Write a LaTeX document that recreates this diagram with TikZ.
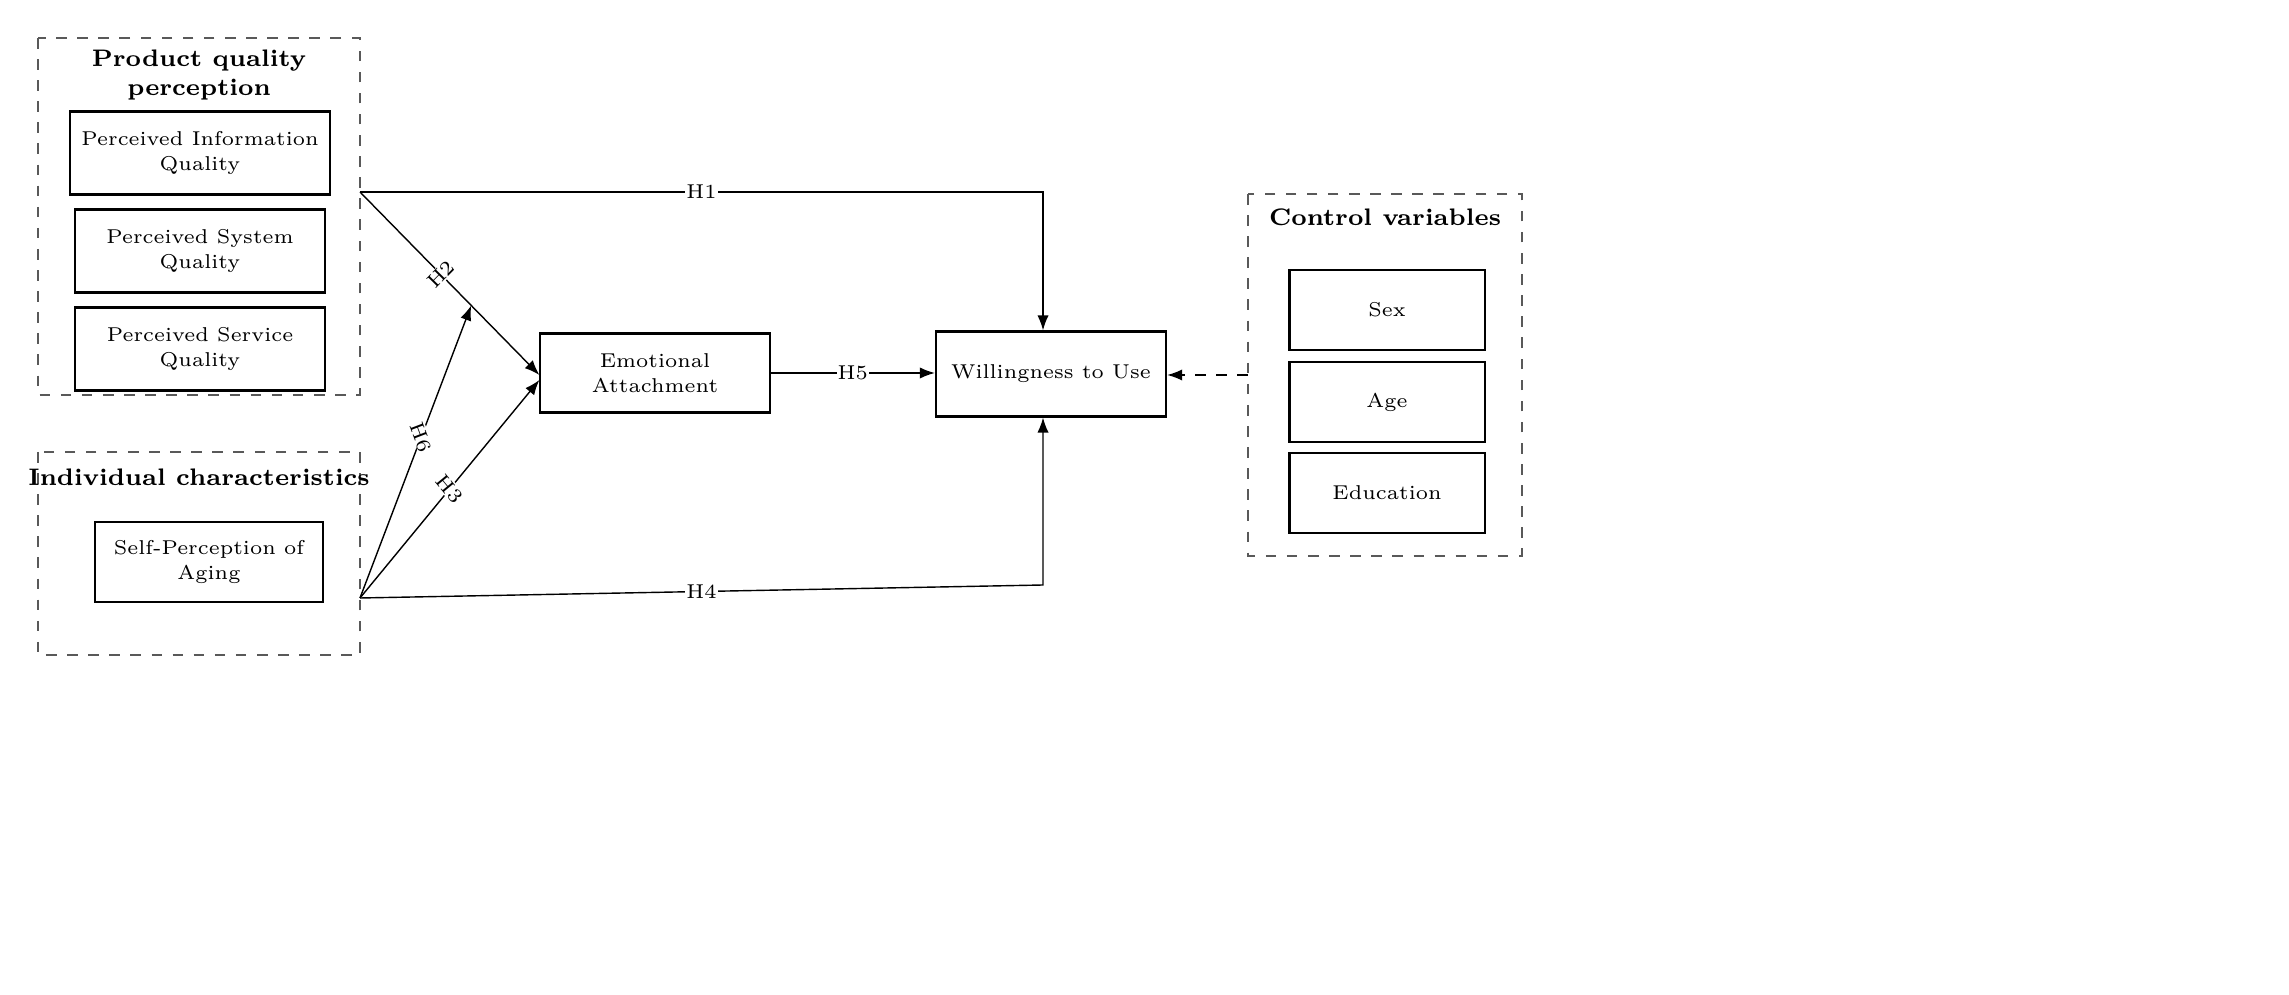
\documentclass[tikz,border=0pt]{standalone}
\usepackage{tikz}
\usetikzlibrary{positioning,arrows.meta,calc}
\tikzset{
  box/.style={draw,semithick,minimum width=2.3cm,minimum height=0.8cm,align=center,font=\fontsize{5.7}{7.2}\selectfont},
  group/.style={draw,semithick,dashed,gray!70!black},
  title/.style={font=\bfseries\fontsize{6.8}{8.2}\selectfont,align=center},
  hyp/.style={fill=white,inner sep=0.3pt,font=\fontsize{5.7}{7}\selectfont},
  link/.style={thin,-{Latex[length=1.5mm]}}
}
\begin{document}
\begin{tikzpicture}[yscale=-1,x=0.01cm,y=0.01cm]
		\useasboundingbox (0,0) rectangle (2289,995);
		% Groups
		\draw[group] (38,38) rectangle (360,395);
		\draw[group] (38,452) rectangle (360,655);
		\draw[group] (1248,194) rectangle (1522,556);
		\node[title] (tq) at (199,75) {Product quality\\perception};
		\node[title] (ti) at (199,477) {Individual characteristics};
		\node[title] (tc) at (1385,217) {Control variables};
		
		% Boxes
		\node[box,minimum width=2.5cm,minimum height=0.83cm] (piq) at (200,153) {Perceived Information\\Quality};
		\node[box,minimum width=2.5cm,minimum height=0.83cm] (psq) at (200,251) {Perceived System\\Quality};
		\node[box,minimum width=2.5cm,minimum height=0.83cm] (pvq) at (200,349) {Perceived Service\\Quality};
		\node[box,minimum width=2.28cm,minimum height=0.8cm] (spa) at (209,562) {Self-Perception of\\Aging};
		\node[box,minimum width=2.29cm,minimum height=0.79cm] (ea) at (655,373) {Emotional\\Attachment};
		\node[box,minimum width=2.3cm,minimum height=0.85cm] (wu) at (1051,374) {Willingness to Use};
		\node[box,minimum width=1.95cm,minimum height=0.8cm] (sex) at (1387,310) {Sex};
		\node[box,minimum width=1.95cm,minimum height=0.8cm] (age) at (1387,402) {Age};
		\node[box,minimum width=1.95cm,minimum height=0.8cm] (edu) at (1387,493) {Education};
		
		% Junctions
		\coordinate (q) at (360,192);
		\coordinate (s) at (360,598);
		\coordinate (c1) at (1043,192);
		\coordinate (c4) at (1043,585);
		\coordinate (ctl) at (1248,375);
		
		% Arrows
		\draw[link] (q) -- node[hyp,pos=0.5] {H1} (c1) -- (wu.north -| c1);
		\draw[link] (q) -- node[hyp,sloped,pos=0.45] {H2} (ea.west |- 0,375) coordinate (e2);
		\draw[link] (s) -- node[hyp,sloped,pos=0.55] {H6} ($(q)!0.62!(e2)$);
		\draw[link] (s) -- node[hyp,sloped,pos=0.5] {H3} (ea.west |- 0,380);
		\draw[link] (s) -- node[hyp,pos=0.5] {H4} (c4) -- (wu.south -| c4);
		\draw[link] (ea.east) -- node[hyp] {H5} (wu.west |- ea.east);
		\draw[link,dashed] (ctl) -- (wu.east |- ctl);
\end{tikzpicture}
\end{document}
